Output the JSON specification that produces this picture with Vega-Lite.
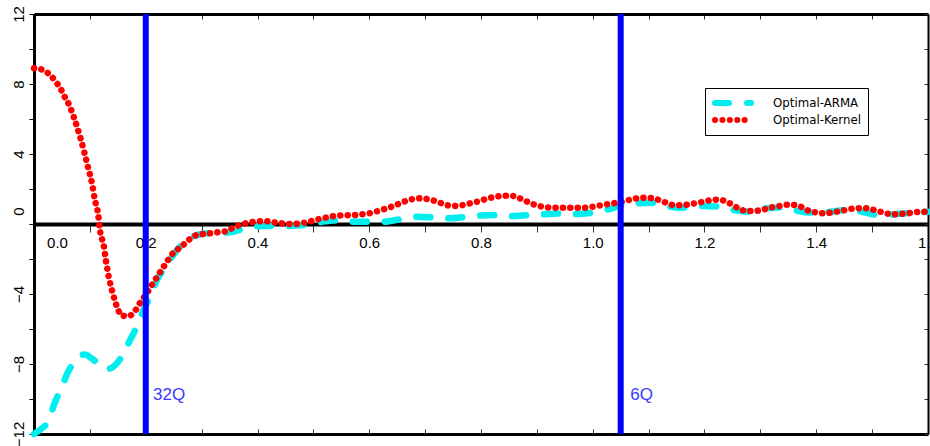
{
  "$schema": "https://vega.github.io/schema/vega-lite/v6.json",
  "width": 894,
  "height": 420,
  "autosize": {"type": "none"},
  "padding": {"left": 34, "top": 14, "right": 2, "bottom": 12},
  "background": "white",
  "config": {"view": {"stroke": null}, "axis": {"grid": false, "zindex": 0}},
  "datasets": {
    "curves": [
      {"series": "Optimal-ARMA", "x": 0, "y": -12},
      {"series": "Optimal-ARMA", "x": 0.017, "y": -11.6},
      {"series": "Optimal-ARMA", "x": 0.026, "y": -11.3},
      {"series": "Optimal-ARMA", "x": 0.035, "y": -10.4},
      {"series": "Optimal-ARMA", "x": 0.05, "y": -9.3},
      {"series": "Optimal-ARMA", "x": 0.061, "y": -8.44},
      {"series": "Optimal-ARMA", "x": 0.072, "y": -7.9},
      {"series": "Optimal-ARMA", "x": 0.082, "y": -7.54},
      {"series": "Optimal-ARMA", "x": 0.091, "y": -7.45},
      {"series": "Optimal-ARMA", "x": 0.103, "y": -7.68},
      {"series": "Optimal-ARMA", "x": 0.116, "y": -8.0},
      {"series": "Optimal-ARMA", "x": 0.13, "y": -8.3},
      {"series": "Optimal-ARMA", "x": 0.142, "y": -8.15},
      {"series": "Optimal-ARMA", "x": 0.153, "y": -7.77},
      {"series": "Optimal-ARMA", "x": 0.163, "y": -7.2},
      {"series": "Optimal-ARMA", "x": 0.172, "y": -6.63},
      {"series": "Optimal-ARMA", "x": 0.184, "y": -5.87},
      {"series": "Optimal-ARMA", "x": 0.196, "y": -4.91},
      {"series": "Optimal-ARMA", "x": 0.211, "y": -3.96},
      {"series": "Optimal-ARMA", "x": 0.22, "y": -3.2},
      {"series": "Optimal-ARMA", "x": 0.232, "y": -2.6},
      {"series": "Optimal-ARMA", "x": 0.243, "y": -2.06},
      {"series": "Optimal-ARMA", "x": 0.261, "y": -1.3},
      {"series": "Optimal-ARMA", "x": 0.285, "y": -0.72},
      {"series": "Optimal-ARMA", "x": 0.309, "y": -0.53},
      {"series": "Optimal-ARMA", "x": 0.333, "y": -0.5},
      {"series": "Optimal-ARMA", "x": 0.357, "y": -0.44},
      {"series": "Optimal-ARMA", "x": 0.372, "y": -0.3},
      {"series": "Optimal-ARMA", "x": 0.39, "y": -0.15},
      {"series": "Optimal-ARMA", "x": 0.42, "y": -0.1},
      {"series": "Optimal-ARMA", "x": 0.452, "y": -0.11},
      {"series": "Optimal-ARMA", "x": 0.482, "y": -0.06},
      {"series": "Optimal-ARMA", "x": 0.5, "y": 0.04},
      {"series": "Optimal-ARMA", "x": 0.52, "y": 0.15},
      {"series": "Optimal-ARMA", "x": 0.536, "y": 0.2},
      {"series": "Optimal-ARMA", "x": 0.55, "y": 0.15},
      {"series": "Optimal-ARMA", "x": 0.566, "y": 0.13},
      {"series": "Optimal-ARMA", "x": 0.595, "y": 0.13},
      {"series": "Optimal-ARMA", "x": 0.625, "y": 0.13},
      {"series": "Optimal-ARMA", "x": 0.655, "y": 0.27},
      {"series": "Optimal-ARMA", "x": 0.682, "y": 0.42},
      {"series": "Optimal-ARMA", "x": 0.714, "y": 0.38},
      {"series": "Optimal-ARMA", "x": 0.742, "y": 0.33},
      {"series": "Optimal-ARMA", "x": 0.771, "y": 0.4},
      {"series": "Optimal-ARMA", "x": 0.795, "y": 0.48},
      {"series": "Optimal-ARMA", "x": 0.834, "y": 0.51},
      {"series": "Optimal-ARMA", "x": 0.852, "y": 0.45},
      {"series": "Optimal-ARMA", "x": 0.885, "y": 0.51},
      {"series": "Optimal-ARMA", "x": 0.909, "y": 0.55},
      {"series": "Optimal-ARMA", "x": 0.944, "y": 0.6},
      {"series": "Optimal-ARMA", "x": 0.968, "y": 0.57},
      {"series": "Optimal-ARMA", "x": 0.995, "y": 0.63},
      {"series": "Optimal-ARMA", "x": 1.028, "y": 0.84},
      {"series": "Optimal-ARMA", "x": 1.055, "y": 1.09},
      {"series": "Optimal-ARMA", "x": 1.079, "y": 1.18},
      {"series": "Optimal-ARMA", "x": 1.111, "y": 1.22},
      {"series": "Optimal-ARMA", "x": 1.138, "y": 0.99},
      {"series": "Optimal-ARMA", "x": 1.156, "y": 0.93},
      {"series": "Optimal-ARMA", "x": 1.171, "y": 0.96},
      {"series": "Optimal-ARMA", "x": 1.198, "y": 1.03},
      {"series": "Optimal-ARMA", "x": 1.228, "y": 0.99},
      {"series": "Optimal-ARMA", "x": 1.252, "y": 0.8},
      {"series": "Optimal-ARMA", "x": 1.284, "y": 0.7},
      {"series": "Optimal-ARMA", "x": 1.311, "y": 0.9},
      {"series": "Optimal-ARMA", "x": 1.341, "y": 0.95},
      {"series": "Optimal-ARMA", "x": 1.368, "y": 0.74},
      {"series": "Optimal-ARMA", "x": 1.392, "y": 0.65},
      {"series": "Optimal-ARMA", "x": 1.425, "y": 0.7},
      {"series": "Optimal-ARMA", "x": 1.455, "y": 0.8},
      {"series": "Optimal-ARMA", "x": 1.481, "y": 0.7},
      {"series": "Optimal-ARMA", "x": 1.514, "y": 0.51},
      {"series": "Optimal-ARMA", "x": 1.544, "y": 0.57},
      {"series": "Optimal-ARMA", "x": 1.574, "y": 0.65},
      {"series": "Optimal-ARMA", "x": 1.6, "y": 0.7},
      {"series": "Optimal-Kernel", "x": 0, "y": 8.9},
      {"series": "Optimal-Kernel", "x": 0.016, "y": 8.8},
      {"series": "Optimal-Kernel", "x": 0.027, "y": 8.57},
      {"series": "Optimal-Kernel", "x": 0.038, "y": 8.17},
      {"series": "Optimal-Kernel", "x": 0.048, "y": 7.71},
      {"series": "Optimal-Kernel", "x": 0.055, "y": 7.26},
      {"series": "Optimal-Kernel", "x": 0.063, "y": 6.8},
      {"series": "Optimal-Kernel", "x": 0.073, "y": 5.94},
      {"series": "Optimal-Kernel", "x": 0.082, "y": 5.03},
      {"series": "Optimal-Kernel", "x": 0.09, "y": 4.11},
      {"series": "Optimal-Kernel", "x": 0.097, "y": 3.2},
      {"series": "Optimal-Kernel", "x": 0.104, "y": 2.29},
      {"series": "Optimal-Kernel", "x": 0.109, "y": 1.37},
      {"series": "Optimal-Kernel", "x": 0.115, "y": 0.51},
      {"series": "Optimal-Kernel", "x": 0.118, "y": -0.34},
      {"series": "Optimal-Kernel", "x": 0.125, "y": -1.26},
      {"series": "Optimal-Kernel", "x": 0.129, "y": -2.15},
      {"series": "Optimal-Kernel", "x": 0.134, "y": -3.05},
      {"series": "Optimal-Kernel", "x": 0.141, "y": -3.96},
      {"series": "Optimal-Kernel", "x": 0.15, "y": -4.86},
      {"series": "Optimal-Kernel", "x": 0.157, "y": -5.24},
      {"series": "Optimal-Kernel", "x": 0.169, "y": -5.26},
      {"series": "Optimal-Kernel", "x": 0.182, "y": -4.91},
      {"series": "Optimal-Kernel", "x": 0.191, "y": -4.44},
      {"series": "Optimal-Kernel", "x": 0.2, "y": -4.06},
      {"series": "Optimal-Kernel", "x": 0.209, "y": -3.58},
      {"series": "Optimal-Kernel", "x": 0.218, "y": -3.14},
      {"series": "Optimal-Kernel", "x": 0.227, "y": -2.69},
      {"series": "Optimal-Kernel", "x": 0.236, "y": -2.25},
      {"series": "Optimal-Kernel", "x": 0.246, "y": -1.77},
      {"series": "Optimal-Kernel", "x": 0.258, "y": -1.43},
      {"series": "Optimal-Kernel", "x": 0.269, "y": -1.14},
      {"series": "Optimal-Kernel", "x": 0.279, "y": -0.86},
      {"series": "Optimal-Kernel", "x": 0.291, "y": -0.63},
      {"series": "Optimal-Kernel", "x": 0.303, "y": -0.57},
      {"series": "Optimal-Kernel", "x": 0.315, "y": -0.53},
      {"series": "Optimal-Kernel", "x": 0.329, "y": -0.47},
      {"series": "Optimal-Kernel", "x": 0.345, "y": -0.4},
      {"series": "Optimal-Kernel", "x": 0.357, "y": -0.2},
      {"series": "Optimal-Kernel", "x": 0.369, "y": -0.05},
      {"series": "Optimal-Kernel", "x": 0.381, "y": 0.06},
      {"series": "Optimal-Kernel", "x": 0.396, "y": 0.13},
      {"series": "Optimal-Kernel", "x": 0.41, "y": 0.17},
      {"series": "Optimal-Kernel", "x": 0.424, "y": 0.13},
      {"series": "Optimal-Kernel", "x": 0.437, "y": 0.06},
      {"series": "Optimal-Kernel", "x": 0.45, "y": 0.02},
      {"series": "Optimal-Kernel", "x": 0.464, "y": 0},
      {"series": "Optimal-Kernel", "x": 0.477, "y": 0.04},
      {"series": "Optimal-Kernel", "x": 0.492, "y": 0.13},
      {"series": "Optimal-Kernel", "x": 0.505, "y": 0.25},
      {"series": "Optimal-Kernel", "x": 0.518, "y": 0.34},
      {"series": "Optimal-Kernel", "x": 0.531, "y": 0.42},
      {"series": "Optimal-Kernel", "x": 0.545, "y": 0.48},
      {"series": "Optimal-Kernel", "x": 0.558, "y": 0.5},
      {"series": "Optimal-Kernel", "x": 0.571, "y": 0.51},
      {"series": "Optimal-Kernel", "x": 0.586, "y": 0.55},
      {"series": "Optimal-Kernel", "x": 0.6, "y": 0.61},
      {"series": "Optimal-Kernel", "x": 0.613, "y": 0.72},
      {"series": "Optimal-Kernel", "x": 0.626, "y": 0.84},
      {"series": "Optimal-Kernel", "x": 0.64, "y": 0.99},
      {"series": "Optimal-Kernel", "x": 0.652, "y": 1.14},
      {"series": "Optimal-Kernel", "x": 0.665, "y": 1.31},
      {"series": "Optimal-Kernel", "x": 0.679, "y": 1.43},
      {"series": "Optimal-Kernel", "x": 0.692, "y": 1.47},
      {"series": "Optimal-Kernel", "x": 0.707, "y": 1.41},
      {"series": "Optimal-Kernel", "x": 0.721, "y": 1.28},
      {"series": "Optimal-Kernel", "x": 0.734, "y": 1.13},
      {"series": "Optimal-Kernel", "x": 0.748, "y": 1.03},
      {"series": "Optimal-Kernel", "x": 0.761, "y": 1.05},
      {"series": "Optimal-Kernel", "x": 0.774, "y": 1.13},
      {"series": "Optimal-Kernel", "x": 0.788, "y": 1.24},
      {"series": "Optimal-Kernel", "x": 0.8, "y": 1.33},
      {"series": "Optimal-Kernel", "x": 0.812, "y": 1.47},
      {"series": "Optimal-Kernel", "x": 0.825, "y": 1.54},
      {"series": "Optimal-Kernel", "x": 0.839, "y": 1.62},
      {"series": "Optimal-Kernel", "x": 0.853, "y": 1.62},
      {"series": "Optimal-Kernel", "x": 0.867, "y": 1.5},
      {"series": "Optimal-Kernel", "x": 0.881, "y": 1.3},
      {"series": "Optimal-Kernel", "x": 0.894, "y": 1.12},
      {"series": "Optimal-Kernel", "x": 0.904, "y": 1.03},
      {"series": "Optimal-Kernel", "x": 0.918, "y": 0.95},
      {"series": "Optimal-Kernel", "x": 0.932, "y": 0.93},
      {"series": "Optimal-Kernel", "x": 0.959, "y": 0.93},
      {"series": "Optimal-Kernel", "x": 0.987, "y": 0.93},
      {"series": "Optimal-Kernel", "x": 1.001, "y": 0.99},
      {"series": "Optimal-Kernel", "x": 1.015, "y": 1.07},
      {"series": "Optimal-Kernel", "x": 1.028, "y": 1.14},
      {"series": "Optimal-Kernel", "x": 1.04, "y": 1.2},
      {"series": "Optimal-Kernel", "x": 1.054, "y": 1.28},
      {"series": "Optimal-Kernel", "x": 1.067, "y": 1.39},
      {"series": "Optimal-Kernel", "x": 1.081, "y": 1.47},
      {"series": "Optimal-Kernel", "x": 1.094, "y": 1.5},
      {"series": "Optimal-Kernel", "x": 1.107, "y": 1.47},
      {"series": "Optimal-Kernel", "x": 1.122, "y": 1.33},
      {"series": "Optimal-Kernel", "x": 1.134, "y": 1.18},
      {"series": "Optimal-Kernel", "x": 1.147, "y": 1.07},
      {"series": "Optimal-Kernel", "x": 1.161, "y": 1.08},
      {"series": "Optimal-Kernel", "x": 1.176, "y": 1.14},
      {"series": "Optimal-Kernel", "x": 1.189, "y": 1.22},
      {"series": "Optimal-Kernel", "x": 1.203, "y": 1.31},
      {"series": "Optimal-Kernel", "x": 1.216, "y": 1.39},
      {"series": "Optimal-Kernel", "x": 1.229, "y": 1.37},
      {"series": "Optimal-Kernel", "x": 1.243, "y": 1.22},
      {"series": "Optimal-Kernel", "x": 1.255, "y": 0.99},
      {"series": "Optimal-Kernel", "x": 1.267, "y": 0.8},
      {"series": "Optimal-Kernel", "x": 1.28, "y": 0.74},
      {"series": "Optimal-Kernel", "x": 1.294, "y": 0.76},
      {"series": "Optimal-Kernel", "x": 1.307, "y": 0.84},
      {"series": "Optimal-Kernel", "x": 1.32, "y": 0.95},
      {"series": "Optimal-Kernel", "x": 1.334, "y": 1.03},
      {"series": "Optimal-Kernel", "x": 1.347, "y": 1.1},
      {"series": "Optimal-Kernel", "x": 1.361, "y": 1.09},
      {"series": "Optimal-Kernel", "x": 1.375, "y": 0.95},
      {"series": "Optimal-Kernel", "x": 1.386, "y": 0.76},
      {"series": "Optimal-Kernel", "x": 1.398, "y": 0.67},
      {"series": "Optimal-Kernel", "x": 1.411, "y": 0.61},
      {"series": "Optimal-Kernel", "x": 1.426, "y": 0.65},
      {"series": "Optimal-Kernel", "x": 1.439, "y": 0.72},
      {"series": "Optimal-Kernel", "x": 1.452, "y": 0.8},
      {"series": "Optimal-Kernel", "x": 1.466, "y": 0.88},
      {"series": "Optimal-Kernel", "x": 1.481, "y": 0.91},
      {"series": "Optimal-Kernel", "x": 1.494, "y": 0.88},
      {"series": "Optimal-Kernel", "x": 1.508, "y": 0.76},
      {"series": "Optimal-Kernel", "x": 1.521, "y": 0.65},
      {"series": "Optimal-Kernel", "x": 1.535, "y": 0.55},
      {"series": "Optimal-Kernel", "x": 1.549, "y": 0.57},
      {"series": "Optimal-Kernel", "x": 1.562, "y": 0.61},
      {"series": "Optimal-Kernel", "x": 1.576, "y": 0.67},
      {"series": "Optimal-Kernel", "x": 1.59, "y": 0.7},
      {"series": "Optimal-Kernel", "x": 1.6, "y": 0.7}
    ],
    "markers": [{"x": 0.2}, {"x": 1.05}],
    "labels": [
      {"x": 0.213, "y": -9.75, "label": "32Q"},
      {"x": 1.067, "y": -9.75, "label": "6Q"}
    ]
  },
  "layer": [
    {
      "data": {"name": "curves"},
      "mark": {"type": "line", "strokeWidth": 6.5, "strokeCap": "round", "interpolate": "monotone"},
      "encoding": {
        "x": {
          "field": "x", "type": "quantitative",
          "scale": {"domain": [0, 1.6], "nice": false, "zero": false},
          "axis": {
            "orient": "bottom", "offset": -210, "title": null,
            "values": [0, 0.1, 0.2, 0.3, 0.4, 0.5, 0.6, 0.7, 0.8, 0.9, 1.0, 1.1, 1.2, 1.3, 1.4, 1.5, 1.6],
            "domainColor": "black", "domainWidth": 4,
            "tickColor": "#333333", "tickWidth": 1, "tickSize": 8,
            "labelExpr": "round(datum.value*10) % 2 == 0 ? format(datum.value, '.1f') : ''",
            "labelFont": "Liberation Sans", "labelFontSize": 15, "labelColor": "black",
            "labelPadding": 3, "labelOverlap": false, "labelFlush": false, "labelBound": false,
            "labelOffset": {"condition": {"test": "datum.value == 0", "value": 23}, "value": 0}
          }
        },
        "y": {
          "field": "y", "type": "quantitative",
          "scale": {"domain": [-12, 12], "nice": false, "zero": false},
          "axis": {
            "orient": "left", "title": null,
            "values": [-12, -10, -8, -6, -4, -2, 0, 2, 4, 6, 8, 10, 12],
            "domainColor": "black", "domainWidth": 3,
            "tickColor": "black", "tickWidth": 1, "tickSize": 5,
            "labelExpr": "datum.value % 4 == 0 ? format(datum.value, 'd') : ''",
            "labelAngle": -90, "labelFont": "Liberation Sans", "labelFontSize": 15, "labelColor": "black",
            "labelPadding": 3, "labelOverlap": false, "labelFlush": false,
            "labelOffset": {"condition": {"test": "datum.value == 0", "value": -13}, "value": 0}
          }
        },
        "color": {
          "field": "series", "type": "nominal",
          "scale": {"domain": ["Optimal-ARMA", "Optimal-Kernel"], "range": ["#00eeee", "#ff0000"]},
          "legend": {
            "title": null, "orient": "none", "legendX": 671, "legendY": 74,
            "symbolType": "stroke", "symbolSize": 1296, "symbolStrokeWidth": 6, "clipHeight": 16,
            "labelFont": "DejaVu Sans", "labelFontSize": 11.8, "labelColor": "black", "labelOffset": 19,
            "padding": 7, "rowPadding": 1, "strokeColor": "black", "fillColor": "white",
            "encode": {"symbols": {"update": {"strokeCap": {"value": "round"}, "strokeWidth": {"value": 6}}}}
          }
        },
        "strokeDash": {
          "field": "series", "type": "nominal",
          "scale": {"domain": ["Optimal-ARMA", "Optimal-Kernel"], "range": [[14, 18], [0.1, 7.3]]},
          "legend": {
            "title": null, "orient": "none", "legendX": 671, "legendY": 74,
            "symbolType": "stroke", "symbolSize": 1296, "symbolStrokeWidth": 6, "clipHeight": 16,
            "labelFont": "DejaVu Sans", "labelFontSize": 11.8, "labelColor": "black", "labelOffset": 19,
            "padding": 7, "rowPadding": 1, "strokeColor": "black", "fillColor": "white",
            "encode": {"symbols": {"update": {"strokeCap": {"value": "round"}, "strokeWidth": {"value": 6}}}}
          }
        }
      }
    },
    {
      "data": {"name": "markers"},
      "mark": {"type": "rule", "color": "#0000ff", "strokeWidth": 6},
      "encoding": {
        "x": {
          "field": "x", "type": "quantitative",
          "scale": {"domain": [0, 1.6], "nice": false, "zero": false},
          "axis": {
            "orient": "top", "title": null, "labels": false,
            "values": [0, 0.1, 0.2, 0.3, 0.4, 0.5, 0.6, 0.7, 0.8, 0.9, 1.0, 1.1, 1.2, 1.3, 1.4, 1.5, 1.6],
            "domainColor": "black", "domainWidth": 3,
            "tickColor": "#333333", "tickWidth": 1, "tickSize": -5
          }
        }
      }
    },
    {
      "data": {"name": "labels"},
      "mark": {"type": "text", "align": "left", "baseline": "middle", "font": "Liberation Sans", "fontSize": 17, "color": "#3a3aff"},
      "encoding": {
        "x": {
          "field": "x", "type": "quantitative",
          "scale": {"domain": [0, 1.6], "nice": false, "zero": false},
          "axis": {
            "orient": "bottom", "title": null, "labels": false,
            "values": [0, 0.1, 0.2, 0.3, 0.4, 0.5, 0.6, 0.7, 0.8, 0.9, 1.0, 1.1, 1.2, 1.3, 1.4, 1.5, 1.6],
            "domainColor": "black", "domainWidth": 3,
            "tickColor": "#333333", "tickWidth": 1, "tickSize": -5
          }
        },
        "y": {
          "field": "y", "type": "quantitative",
          "scale": {"domain": [-12, 12], "nice": false, "zero": false},
          "axis": {
            "orient": "right", "title": null, "labels": false,
            "values": [-12, -10, -8, -6, -4, -2, 0, 2, 4, 6, 8, 10, 12],
            "domainColor": "black", "domainWidth": 2,
            "tickColor": "#333333", "tickWidth": 1, "tickSize": -4
          }
        },
        "text": {"field": "label"}
      }
    }
  ],
  "resolve": {"axis": {"x": "independent", "y": "independent"}}
}
